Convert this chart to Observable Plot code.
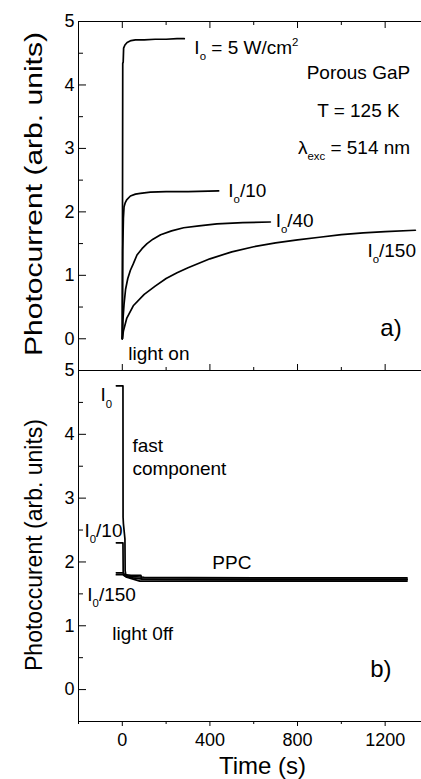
<!DOCTYPE html>
<html><head><meta charset="utf-8">
<script src="https://cdn.jsdelivr.net/npm/d3@7"></script>
<script src="https://cdn.jsdelivr.net/npm/@observablehq/plot@0.6"></script>
<style>
html,body{margin:0;padding:0;background:#fff;color:#000;overflow:hidden;}
#chart svg{display:block;}
</style></head><body><div id="chart"></div>
<script>
// ---- Data: (a) light-on transients ----
const onI0T = [0, 2, 4, 6, 12, 22, 40, 60, 100, 150, 200, 250, 283];
const onI0V = [0, 4.34, 4.36, 4.58, 4.63, 4.67, 4.70, 4.71, 4.71, 4.72, 4.72, 4.73, 4.73];
const onI10T = [0, 2, 5, 8, 13, 20, 37, 60, 82, 128, 200, 300, 440];
const onI10V = [0, 1.40, 1.90, 2.08, 2.14, 2.19, 2.25, 2.28, 2.29, 2.31, 2.32, 2.32, 2.33];
const onI40T = [0, 3, 8, 15, 25, 37, 50, 67, 90, 113, 140, 175, 225, 280, 350, 432, 550, 676];
const onI40V = [0, 0.30, 0.55, 0.78, 0.95, 1.08, 1.18, 1.32, 1.42, 1.50, 1.57, 1.64, 1.70, 1.75, 1.78, 1.81, 1.83, 1.84];
const onI150T = [0, 5, 20, 50, 100, 150, 200, 250, 300, 400, 500, 600, 700, 800, 900, 1000, 1100, 1200, 1338];
const onI150V = [0, 0.12, 0.32, 0.52, 0.70, 0.83, 0.95, 1.04, 1.12, 1.26, 1.37, 1.45, 1.51, 1.56, 1.60, 1.64, 1.67, 1.69, 1.71];

// ---- Data: (b) light-off decays ----
const offI0T = [-27, 3, 3.5, 5, 12, 13, 16, 25, 50, 100, 300, 700, 1300];
const offI0V = [4.76, 4.76, 2.70, 2.60, 2.36, 1.86, 1.80, 1.78, 1.77, 1.76, 1.755, 1.75, 1.75];
const offI10T = [-27, 3, 4, 8, 20, 50, 90, 200, 600, 1300];
const offI10V = [2.30, 2.30, 1.85, 1.79, 1.77, 1.75, 1.73, 1.725, 1.72, 1.72];
const offI40T = [-27, 3, 10, 40, 85, 88, 200, 600, 1300];
const offI40V = [1.83, 1.83, 1.80, 1.79, 1.79, 1.735, 1.73, 1.73, 1.73];
const offI150T = [-27, 3, 20, 50, 80, 200, 600, 1300];
const offI150V = [1.80, 1.80, 1.76, 1.73, 1.70, 1.70, 1.70, 1.70];

// ---- Ticks ----
const xMajor = [0, 400, 800, 1200];
const xMinor = [200, 600, 1000];
const yMajor = [0, 1, 2, 3, 4, 5];
const yMinor = [0.5, 1.5, 2.5, 3.5, 4.5];

// ---- Annotations ----
const annTopStart = [
  {text: "I_{o} = 5 W/cm^{2}", t: 329, v: 4.59},
  {text: "I_{o}/10", t: 484, v: 2.33},
  {text: "I_{o}/40", t: 700, v: 1.86},
  {text: "I_{o}/150", t: 1119, v: 1.39},
  {text: "light on", t: 27, v: -0.24}
];
const annTopMiddle = [
  {text: "Porous GaP", t: 1078, v: 4.19},
  {text: "T = 125 K", t: 1078, v: 3.59},
  {text: "λ_{exc} = 514 nm", t: 1058, v: 3.01}
];
const annBottomStart = [
  {text: "I_{0}", t: -100, v: 4.61},
  {text: "fast", t: 46, v: 3.82},
  {text: "component", t: 46, v: 3.46},
  {text: "I_{0}/10", t: -173, v: 2.48},
  {text: "PPC", t: 411, v: 1.98},
  {text: "I_{0}/150", t: -160, v: 1.49},
  {text: "light 0ff", t: -46, v: 0.88}
];
const panelTop = [{text: "a)", t: 1178, v: 0.17}];
const panelBottom = [{text: "b)", t: 1132, v: 0.31}];

const rows = (s, T, V) => T.map((t, i) => ({s, t, v: V[i]}));
const onData = [...rows("Io", onI0T, onI0V), ...rows("Io/10", onI10T, onI10V),
                ...rows("Io/40", onI40T, onI40V), ...rows("Io/150", onI150T, onI150V)];
const offData = [...rows("Io", offI0T, offI0V), ...rows("Io/10", offI10T, offI10V),
                 ...rows("Io/40", offI40T, offI40V), ...rows("Io/150", offI150T, offI150V)];

const FONT = '"Liberation Sans", Arial, Helvetica, sans-serif';
const xDomain = [-200, 1366];
const yDomain = [-0.5, 5];
const blank = () => "";
const plain = d => String(d);
const common = {
  width: 421, marginLeft: 78, marginRight: 0,
  style: {fontFamily: FONT, overflow: "visible", background: "transparent", color: "#000"},
  x: {domain: xDomain, label: null},
  y: {domain: yDomain, label: null}
};
const LW = 1.7;

const topPlot = Plot.plot({
  ...common, height: 370, marginTop: 21, marginBottom: 0,
  marks: [
    Plot.ruleX([xDomain[0]], {stroke: "#000"}),
    Plot.ruleY([yDomain[1], yDomain[0]], {stroke: "#000"}),
    Plot.axisY(yMajor, {tickSize: 0, tickPadding: 4, fontSize: 18, tickFormat: plain}),
    Plot.axisY(yMajor, {tickSize: -8, tickFormat: blank}),
    Plot.axisY(yMinor, {tickSize: -5, tickFormat: blank}),
    Plot.axisX(xMajor, {anchor: "top", tickSize: -6, tickFormat: blank}),
    Plot.axisX(xMinor, {anchor: "top", tickSize: -3, tickFormat: blank}),
    Plot.axisX(xMajor, {anchor: "bottom", tickSize: -6, tickFormat: blank}),
    Plot.axisX(xMinor, {anchor: "bottom", tickSize: -3, tickFormat: blank}),
    Plot.line(onData, {x: "t", y: "v", z: "s", stroke: "#000", strokeWidth: LW}),
    Plot.text(annTopStart, {x: "t", y: "v", text: "text", textAnchor: "start", fontSize: 19, fill: "#000"}),
    Plot.text(annTopMiddle, {x: "t", y: "v", text: "text", textAnchor: "middle", fontSize: 19, fill: "#000"}),
    Plot.text(panelTop, {x: "t", y: "v", text: "text", textAnchor: "start", fontSize: 24, fill: "#000"}),
    Plot.text(["Photocurrent (arb. units)"], {text: d => d, frameAnchor: "left", lineAnchor: "middle", textAnchor: "start", dx: -44, dy: 160, rotate: -90, fontSize: 23, fill: "#000"})
  ]
});

const bottomPlot = Plot.plot({
  ...common, height: 409, marginTop: 0, marginBottom: 58,
  marks: [
    Plot.ruleX([xDomain[0]], {stroke: "#000"}),
    Plot.ruleY([yDomain[1], yDomain[0]], {stroke: "#000"}),
    Plot.axisY(yMajor, {tickSize: 0, tickPadding: 4, fontSize: 18, tickFormat: plain}),
    Plot.axisY(yMajor, {tickSize: -8, tickFormat: blank}),
    Plot.axisY(yMinor, {tickSize: -5, tickFormat: blank}),
    Plot.axisX(xMajor, {anchor: "bottom", tickSize: 5, tickPadding: 7, fontSize: 18, tickFormat: plain}),
    Plot.axisX([xDomain[0], ...xMinor], {anchor: "bottom", tickSize: 3, tickFormat: blank}),
    Plot.line(offData, {x: "t", y: "v", z: "s", stroke: "#000", strokeWidth: LW}),
    Plot.text(annBottomStart, {x: "t", y: "v", text: "text", textAnchor: "start", fontSize: 19, fill: "#000"}),
    Plot.text(panelBottom, {x: "t", y: "v", text: "text", textAnchor: "start", fontSize: 24, fill: "#000"}),
    Plot.text(["Photoccurent (arb. units)"], {text: d => d, frameAnchor: "left", lineAnchor: "middle", textAnchor: "start", dx: -44, dy: 125, rotate: -90, fontSize: 23, fill: "#000"}),
    Plot.text(["Time (s)"], {text: d => d, x: 640, frameAnchor: "bottom", lineAnchor: "middle", dy: 45, fontSize: 24, fill: "#000"})
  ]
});

// Sub/superscript markup: _{..} and ^{..}
function richText(svg) {
  d3.select(svg).selectAll("text").each(function () {
    const el = this;
    const s = el.textContent;
    if (!/[_^]\{/.test(s)) return;
    const fs = parseFloat(getComputedStyle(el).fontSize) || 19;
    el.textContent = "";
    const re = /([_^])\{([^}]*)\}/g;
    let last = 0, m, shift = 0;
    const add = (txt, kind) => {
      const ts = d3.select(el).append("tspan").text(txt);
      const target = kind === "_" ? 0.32 * fs : kind === "^" ? -0.42 * fs : 0;
      if (target - shift !== 0) ts.attr("dy", target - shift);
      shift = target;
      if (kind) ts.attr("font-size", 0.6 * fs);
    };
    while ((m = re.exec(s))) {
      if (m.index > last) add(s.slice(last, m.index), null);
      add(m[2], m[1]);
      last = re.lastIndex;
    }
    if (last < s.length) add(s.slice(last), null);
  });
}
function fitTitle(svg, prefix, len) {
  d3.select(svg).selectAll("text").filter(function () { return this.textContent.startsWith(prefix); })
    .attr("textLength", len).attr("lengthAdjust", "spacingAndGlyphs");
}
const chart = document.getElementById("chart");
chart.append(topPlot, bottomPlot);
richText(topPlot); richText(bottomPlot);
fitTitle(topPlot, "Photocurrent", 324);
fitTitle(bottomPlot, "Photoccurent", 252);
</script></body></html>
